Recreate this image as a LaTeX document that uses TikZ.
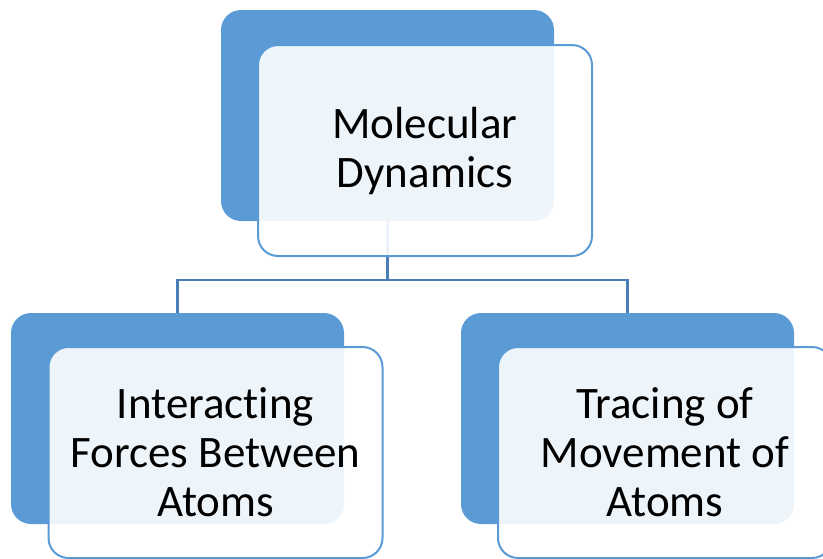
\documentclass[tikz,border=0pt]{standalone}
\usepackage{fontspec}
\setmainfont[Ligatures={NoCommon,NoRare}]{Carlito}
\definecolor{accent}{HTML}{5B9BD5}
\definecolor{linkblue}{HTML}{4A7EBB}

\begin{document}
\begin{tikzpicture}[x=1pt,y=-1pt,
  backbox/.style={rectangle, rounded corners=20pt, fill=accent, draw=none,
    minimum width=333pt, minimum height=211pt, inner sep=0pt},
  frontbox/.style={rectangle, rounded corners=20pt, fill=white, fill opacity=0.9,
    text opacity=1, draw=accent, line width=2pt, minimum width=334pt,
    minimum height=211pt, inner sep=0pt, align=center,
    font=\fontsize{45}{49}\selectfont},
  link/.style={draw=linkblue, line width=2.5pt}]
\useasboundingbox (0,0) rectangle (823,558);

% back boxes
\node[backbox] (topback) at (387.5,115.5) {};
\node[backbox] (leftback) at (177.5,418.5) {};
\node[backbox] (rightback) at (627.5,418.5) {};

% connectors
\coordinate (bus) at (387.5,280);
\path[link] (topback.south) -- (bus);
\path[link] (leftback.north) |- (bus) -| (rightback.north);

% front boxes
\node[frontbox] (topfront) at (425,150.5) {Molecular\\Dynamics};
\node[frontbox] (leftfront) at (215.5,452.5) {Interacting\\Forces Between\\Atoms};
\node[frontbox] (rightfront) at (665,452.5) {Tracing of\\Movement of\\Atoms};
\end{tikzpicture}
\end{document}
